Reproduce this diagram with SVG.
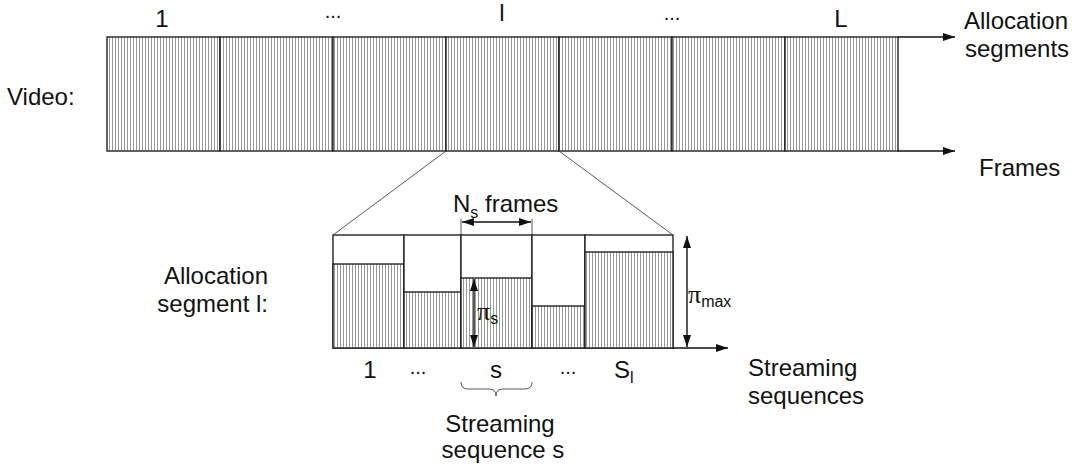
<svg xmlns="http://www.w3.org/2000/svg" width="1074" height="467" viewBox="0 0 1074 467">
<style>
text{font-family:"Liberation Sans",Arial,sans-serif;font-size:24px;fill:#111}
.sub{font-size:16px}
.dots{font-size:20px}
.pi{font-family:"Liberation Serif","Times New Roman",serif;font-size:26px}
.box{stroke:#222;stroke-width:1.4;fill:url(#hatch)}
.white{stroke:#222;stroke-width:1.4;fill:#fff}
.ax{stroke:#111;stroke-width:1.4;fill:none}
.thin{stroke:#444;stroke-width:0.9;fill:none}
</style>
<defs>
<pattern id="hatch" patternUnits="userSpaceOnUse" width="3" height="10">
<rect width="3" height="10" fill="#fff"/>
<line x1="1.5" y1="0" x2="1.5" y2="10" stroke="#999" stroke-width="1"/>
</pattern>
<marker id="ah" viewBox="0 0 12 8" refX="12" refY="4" markerWidth="12" markerHeight="8" markerUnits="userSpaceOnUse" orient="auto-start-reverse">
<path d="M0,0 L12,4 L0,8 Z" fill="#111"/>
</marker>
</defs>

<g id="video">
<rect id="seg1" class="box" x="107" y="37" width="113" height="114"/>
<rect id="seg2" class="box" x="220" y="37" width="113" height="114"/>
<rect id="seg3" class="box" x="333" y="37" width="113" height="114"/>
<rect id="seg4" class="box" x="446" y="37" width="113" height="114"/>
<rect id="seg5" class="box" x="559" y="37" width="113" height="114"/>
<rect id="seg6" class="box" x="672" y="37" width="113" height="114"/>
<rect id="seg7" class="box" x="785" y="37" width="113" height="114"/>
</g>

<g id="segment-l">
<g id="ss1"><rect class="white" x="333" y="235" width="71" height="113"/><rect class="box" x="333" y="264" width="71" height="84"/></g>
<g id="ss2"><rect class="white" x="404" y="235" width="57" height="113"/><rect class="box" x="404" y="292" width="57" height="56"/></g>
<g id="ss3"><rect class="white" x="461" y="235" width="71" height="113"/><rect class="box" x="461" y="278" width="71" height="70"/></g>
<g id="ss4"><rect class="white" x="532" y="235" width="53" height="113"/><rect class="box" x="532" y="306" width="53" height="42"/></g>
<g id="ss5"><rect class="white" x="585" y="235" width="88" height="113"/><rect class="box" x="585" y="252" width="88" height="96"/></g>
</g>

<g id="connectors">
<line class="ax" x1="898" y1="37" x2="955" y2="37" marker-end="url(#ah)"/>
<line class="ax" x1="898" y1="151" x2="955" y2="151" marker-end="url(#ah)"/>
<line class="thin" x1="446" y1="151" x2="333" y2="235"/>
<line class="thin" x1="559" y1="151" x2="673" y2="235"/>
<line class="ax" x1="673" y1="348" x2="728" y2="348" marker-end="url(#ah)"/>
<line class="ax" x1="687" y1="236" x2="687" y2="347" marker-start="url(#ah)" marker-end="url(#ah)"/>
<line class="ax" x1="474" y1="279" x2="474" y2="347" marker-start="url(#ah)" marker-end="url(#ah)"/>
<line class="thin" x1="461" y1="219" x2="461" y2="235"/>
<line class="thin" x1="532" y1="219" x2="532" y2="235"/>
<line class="ax" x1="462" y1="222" x2="531" y2="222" marker-start="url(#ah)" marker-end="url(#ah)"/>
<path class="thin" d="M461,382 Q461,389 468,389 L489,389 Q496,389 496,396 Q496,389 503,389 L525,389 Q532,389 532,382" stroke-width="1.2"/>
</g>

<g id="labels">
<text x="162" y="27" text-anchor="middle">1</text>
<text class="dots" x="333" y="18" text-anchor="middle">...</text>
<text x="502" y="21" text-anchor="middle">l</text>
<text class="dots" x="672" y="20" text-anchor="middle">...</text>
<text x="841" y="27" text-anchor="middle">L</text>
<text x="964" y="29">Allocation</text>
<text x="965" y="57">segments</text>
<text x="979" y="176">Frames</text>
<text x="7" y="105">Video:</text>
<text x="268" y="284" text-anchor="end">Allocation</text>
<text x="268" y="312" text-anchor="end">segment l:</text>
<text x="453" y="212">N<tspan class="sub" dy="6">s</tspan><tspan dy="-6"> frames</tspan></text>
<text x="688" y="303"><tspan class="pi">π</tspan><tspan class="sub" dy="4">max</tspan></text>
<text x="477" y="320"><tspan class="pi">π</tspan><tspan class="sub" dy="4">s</tspan></text>
<text x="370" y="378" text-anchor="middle">1</text>
<text class="dots" x="418" y="374" text-anchor="middle">...</text>
<text x="496" y="378" text-anchor="middle">s</text>
<text class="dots" x="568" y="374" text-anchor="middle">...</text>
<text x="614" y="378">S<tspan class="sub" dy="5">l</tspan></text>
<text x="748" y="376">Streaming</text>
<text x="748" y="404">sequences</text>
<text x="500" y="432" text-anchor="middle">Streaming</text>
<text x="503" y="458" text-anchor="middle">sequence s</text>
</g>
</svg>
